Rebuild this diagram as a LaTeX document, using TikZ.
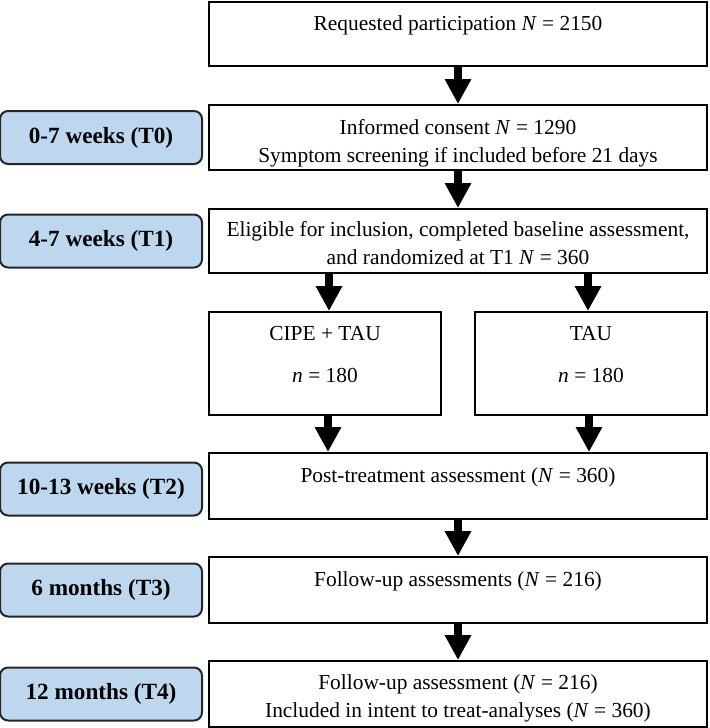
\documentclass[tikz,border=0pt]{standalone}
\usepackage{fontspec}
\setmainfont{Liberation Serif}
\usetikzlibrary{positioning,arrows.meta}
\definecolor{timeblue}{HTML}{BDD7EE}
% invisible struts to put the baselines where the reference has them
\newcommand{\toppad}[1]{\rule{0pt}{#1}}
\newcommand{\botpad}[1]{\rule[-#1]{0pt}{#1}}
\tikzset{
  flowarrow/.style={-{Triangle[length=12.5pt, width=12.5pt]}, line width=4pt},
  stagebox/.style={draw, line width=1pt, fill=white, minimum width=249pt, minimum height=32.5pt, inner sep=0pt, align=center, font=\fontsize{10.7}{14}\selectfont},
  armbox/.style={stagebox, minimum width=116pt, minimum height=51.5pt},
  timebox/.style={draw=black!85, line width=1pt, rounded corners=4pt, fill=timeblue, minimum width=101pt, minimum height=26.5pt, inner sep=0pt, font=\fontsize{11.6}{14}\selectfont\bfseries}
}

\begin{document}
\begin{tikzpicture}[x=0.5pt, y=-0.5pt]
  \useasboundingbox (0,0) rectangle (709,728);
  % main stages
  \node[stagebox, minimum height=32pt] (req) at (458,34) {\toppad{14pt}Requested participation \textit{N} = 2150\botpad{18pt}};
  \node[stagebox] (informed) at (458,137.5) {\toppad{14.5pt}Informed consent \textit{N} = 1290\\Symptom screening if included before 21 days\botpad{4pt}};
  \node[stagebox, minimum height=32pt] (eligible) at (458,241) {\toppad{13.5pt}Eligible for inclusion, completed baseline assessment,\\and randomized at T1 \textit{N} = 360\botpad{4.5pt}};
  \node[armbox] (cipe) at (325,363.5) {\toppad{14pt}CIPE + TAU\\[7pt]\textit{n} = 180\botpad{16.5pt}};
  \node[armbox] (tau) at (591,363.5) {\toppad{14pt}TAU\\[7pt]\textit{n} = 180\botpad{16.5pt}};
  \node[stagebox, minimum height=33pt] (post) at (458,486) {\toppad{14.5pt}Post-treatment assessment (\textit{N} = 360)\botpad{18.5pt}};
  \node[stagebox, minimum height=33pt] (follow) at (458,590) {\toppad{14.5pt}Follow-up assessments (\textit{N} = 216)\botpad{18.5pt}};
  \node[stagebox, minimum height=33pt] (final) at (458,694) {\toppad{14pt}Follow-up assessment (\textit{N} = 216)\\Included in intent to treat-analyses (\textit{N} = 360)\botpad{5pt}};
  % time points
  \node[timebox, left=2.5pt of informed] (t0) {0-7 weeks (T0)};
  \node[timebox, left=2.5pt of eligible] (t1) {4-7 weeks (T1)};
  \node[timebox, left=2.5pt of post, yshift=-1.5pt] (t2) {10-13 weeks (T2)};
  \node[timebox, left=2.5pt of follow] (t3) {6 months (T3)};
  \node[timebox, left=2.5pt of final] (t4) {12 months (T4)};
  % arrows
  \draw[flowarrow] (req) -- (informed);
  \draw[flowarrow] (informed) -- (eligible);
  \draw[flowarrow] ([xshift=2pt]eligible.south -| cipe) -- ([xshift=2pt]cipe.north);
  \draw[flowarrow] ([xshift=-1.5pt]eligible.south -| tau) -- ([xshift=-1.5pt]tau.north);
  \draw[flowarrow] ([xshift=1.5pt]cipe.south) -- ([xshift=1.5pt]cipe.south |- post.north);
  \draw[flowarrow] ([xshift=-1pt]tau.south) -- ([xshift=-1pt]tau.south |- post.north);
  \draw[flowarrow] (post) -- (follow);
  \draw[flowarrow] (follow) -- (final);
\end{tikzpicture}
\end{document}
